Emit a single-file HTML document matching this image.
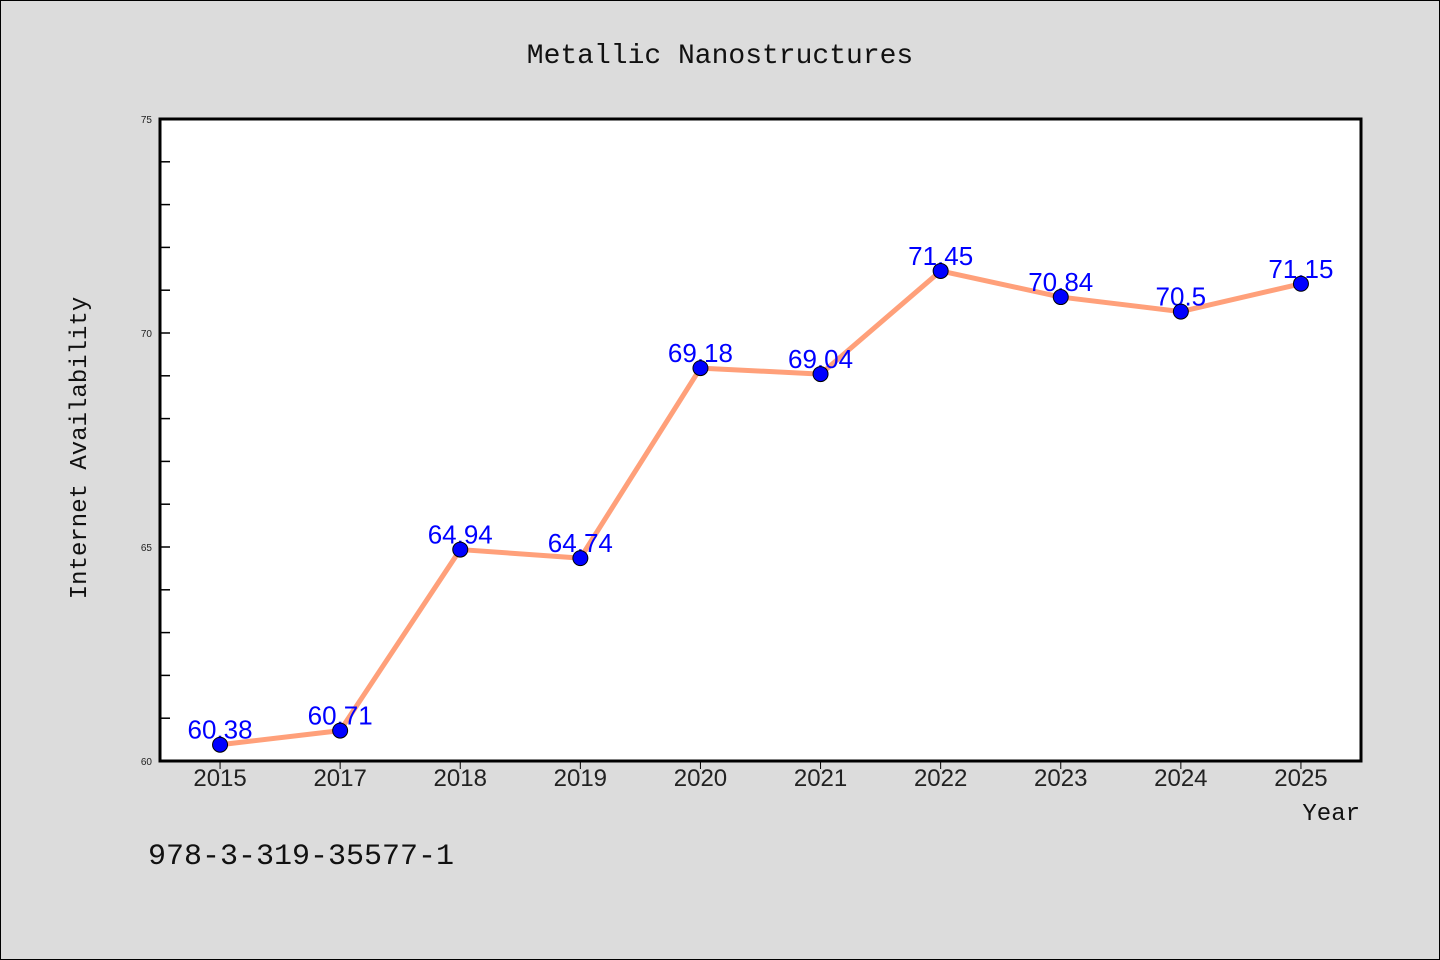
<!DOCTYPE html>
<html><head><meta charset="utf-8"><style>
body{margin:0;background:#dcdcdc;}
svg{display:block;font-family:"Liberation Sans","DejaVu Sans",sans-serif;}
</style></head><body>
<svg id="c" width="1440" height="960" viewBox="0 0 1440 960">
<rect x="0.5" y="0.5" width="1439" height="959" fill="#dcdcdc" stroke="#000"/>
<text x="720" y="63" text-anchor="middle" font-size="28" font-family="Liberation Mono, monospace" fill="#111">Metallic Nanostructures</text>
<rect x="160" y="119" width="1201" height="642" fill="#fff"/>
<g id="yaxis"></g>
<g id="xaxis"></g>
<g id="series"></g>
<rect x="160" y="119" width="1201" height="642" fill="none" stroke="#000" stroke-width="3"/>
<text transform="translate(86,448) rotate(-90)" text-anchor="middle" font-size="24" font-family="Liberation Mono, monospace" fill="#111">Internet Availability</text>
<text x="1360" y="820" text-anchor="end" font-size="24" font-family="Liberation Mono, monospace" fill="#111">Year</text>
<text x="148" y="864" font-size="30" font-family="Liberation Mono, monospace" fill="#111">978-3-319-35577-1</text>
</svg>
<script>
const categories=["2015","2017","2018","2019","2020","2021","2022","2023","2024","2025"];
const values=[60.38,60.71,64.94,64.74,69.18,69.04,71.45,70.84,70.5,71.15];
const valueLabels=["60.38","60.71","64.94","64.74","69.18","69.04","71.45","70.84","70.5","71.15"];
const yTickLabels=[60,65,70,75];
const yMin=60,yMax=75;
const L=160,R=1361,T=119,B=761;
const NS="http://www.w3.org/2000/svg";
function xs(i){return L+(R-L)/categories.length*(i+0.5);}
function ys(v){return B-(v-yMin)/(yMax-yMin)*(B-T);}
function mk(t,a,p){const e=document.createElementNS(NS,t);for(const k in a)e.setAttribute(k,a[k]);p.appendChild(e);return e;}
const ya=document.getElementById('yaxis'),xa=document.getElementById('xaxis'),sg=document.getElementById('series');
for(let v=yMin+1;v<yMax;v++){const l=mk('line',{x1:L,x2:L+10,y1:ys(v),y2:ys(v),stroke:'#000','stroke-width':1.5},ya);

}
yTickLabels.forEach(v=>{const t=mk('text',{x:L-8,y:ys(v)+4,'text-anchor':'end','font-size':10,fill:'#222'},ya);t.textContent=v;

});
categories.forEach((c,i)=>{const l=mk('line',{x1:xs(i),x2:xs(i),y1:B,y2:B+8,stroke:'#000','stroke-width':1},xa);


const t=mk('text',{x:xs(i),y:B+25,'text-anchor':'middle','font-size':24,fill:'#222'},xa);t.textContent=c;

});
const pts=values.map((v,i)=>xs(i)+','+ys(v)).join(' ');
const pl=mk('polyline',{points:pts,fill:'none',stroke:'#ffa07a','stroke-width':5,'stroke-linejoin':'round'},sg);


values.forEach((v,i)=>{const t=mk('text',{x:xs(i),y:ys(v)-6,'text-anchor':'middle','font-size':26,fill:'#0000ff'},sg);t.textContent=valueLabels[i];

});
values.forEach((v,i)=>{const c=mk('circle',{cx:xs(i),cy:ys(v),r:7.5,fill:'#0000ff',stroke:'#000','stroke-width':1},sg);

});
</script>
</body></html>
